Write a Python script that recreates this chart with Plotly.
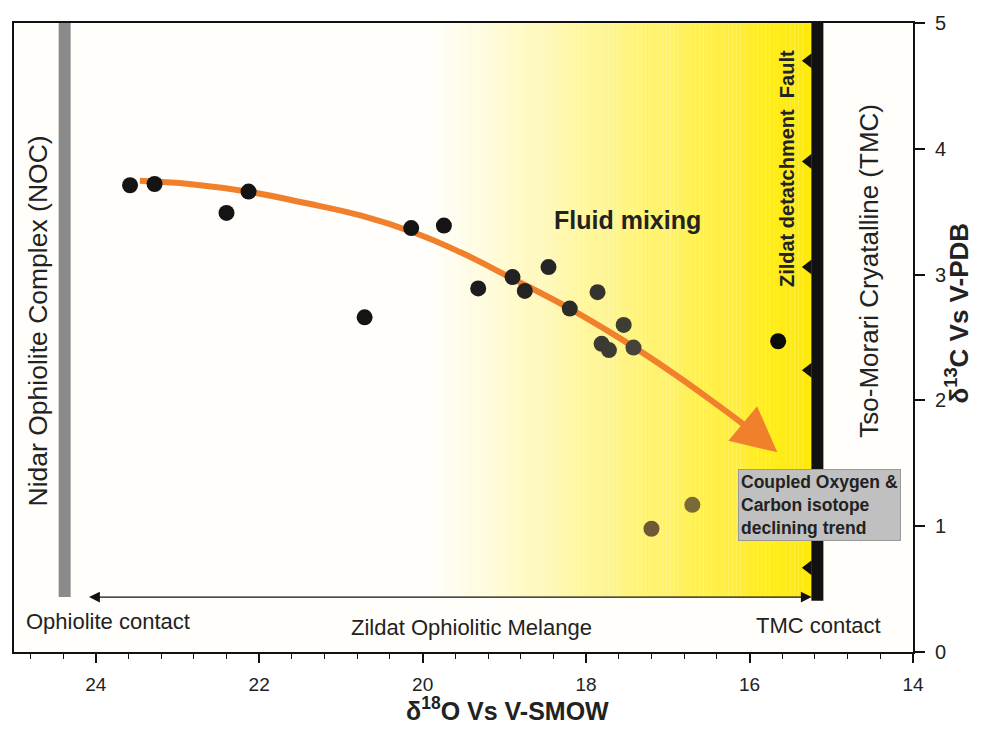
import plotly.graph_objects as go

# ---------------- data ----------------
d18O = [23.58, 23.28, 22.40, 22.13, 20.71, 20.14, 19.74, 19.32, 18.90, 18.75,
        18.46, 18.20, 17.86, 17.81, 17.72, 17.54, 17.42, 17.20, 16.70, 15.65]
d13C = [3.71, 3.72, 3.49, 3.66, 2.66, 3.37, 3.39, 2.89, 2.98, 2.87,
        3.06, 2.73, 2.86, 2.45, 2.40, 2.60, 2.42, 0.98, 1.17, 2.47]
point_colors = ["#141414"] * 7 + ["#1c1c1c", "#222222", "#232323", "#252525", "#2b2b28",
                                  "#333330", "#3a3a32", "#3c3b33", "#3e3d34", "#45433a",
                                  "#6b5a35", "#7a6a3a", "#0a0a0a"]

trend_x = [23.46, 22.83, 22.13, 21.48, 20.75, 20.10, 19.53, 18.90, 18.20, 17.53, 16.93, 16.36, 16.05]
trend_y = [3.746, 3.719, 3.659, 3.575, 3.468, 3.333, 3.175, 2.968, 2.730, 2.471, 2.214, 1.948, 1.798]
trend_tip = (15.66, 1.587)

x_ticks = [24, 22, 20, 18, 16, 14]
y_ticks = [0, 1, 2, 3, 4, 5]

noc_x = 24.38          # Nidar ophiolite contact
fault_x = 15.17        # Zildat detachment fault
fault_teeth_y = [4.70, 3.90, 3.06, 2.24, 0.67]
contact_y = 0.437

X_RANGE = [25, 14]
Y_RANGE = [0, 5]

ORANGE = "#F0802C"
TXT = "#222222"
FONT = "Liberation Sans, Arial, sans-serif"
NARROW = "Liberation Sans Narrow, Arial Narrow, Liberation Sans, Arial, sans-serif"

fig = go.Figure()

# ------------- background gradient (white -> yellow) -------------
shapes = []
g0, g1 = 19.9, 15.35
n = 90
for i in range(n):
    xa = g0 - (g0 - g1) * i / n
    xb = g0 - (g0 - g1) * (i + 1) / n
    t = ((i + 0.5) / n) ** 1.1
    g = round(254 - (254 - 234) * t)
    b = round(250 - (250 - 8) * t)
    shapes.append(dict(type="rect", xref="x", yref="y", x0=xa, x1=xb - 0.001,
                       y0=contact_y, y1=5, fillcolor=f"rgb(255,{g},{b})",
                       line=dict(width=0), layer="below"))
shapes.append(dict(type="rect", xref="x", yref="y", x0=g1, x1=fault_x,
                   y0=contact_y, y1=5, fillcolor="rgb(255,234,8)",
                   line=dict(width=0), layer="below"))
# NOC grey bar
shapes.append(dict(type="line", xref="x", yref="y", x0=noc_x, x1=noc_x,
                   y0=contact_y, y1=5, line=dict(color="#8a8a8a", width=12)))
# fault bar
shapes.append(dict(type="line", xref="x", yref="y", x0=fault_x, x1=fault_x,
                   y0=contact_y - 0.03, y1=5, line=dict(color="#111111", width=12)))

# fault teeth
fig.add_trace(go.Scatter(x=[fault_x + 0.11] * len(fault_teeth_y), y=fault_teeth_y,
                         mode="markers", hoverinfo="skip",
                         marker=dict(symbol="triangle-left", size=13, color="#111111",
                                     line=dict(width=0))))

# trend curve
fig.add_trace(go.Scatter(x=trend_x, y=trend_y, mode="lines", hoverinfo="skip",
                         line=dict(color=ORANGE, width=6, shape="spline", smoothing=1.3)))

# data points
fig.add_trace(go.Scatter(x=d18O, y=d13C, mode="markers",
                         marker=dict(size=16, color=point_colors, line=dict(width=0))))

annotations = []
# arrowhead on trend
annotations.append(dict(x=trend_tip[0], y=trend_tip[1], ax=trend_x[-1], ay=trend_y[-1],
                        xref="x", yref="y", axref="x", ayref="y", text="",
                        showarrow=True, arrowhead=2, arrowsize=1.5, arrowwidth=6,
                        arrowcolor=ORANGE))
# double-headed contact arrow
annotations.append(dict(x=15.24, y=contact_y, ax=24.1, ay=contact_y,
                        xref="x", yref="y", axref="x", ayref="y", text="",
                        showarrow=True, arrowhead=2, startarrowhead=2, arrowside="end+start",
                        arrowsize=1.8, startarrowsize=1.8, arrowwidth=1.2, arrowcolor="#111111"))

# page offset (browser body margin)
OFF = 8
W, H = 981 - 2 * OFF, 731 - 2 * OFF
L, R, T, B = 12, 913, 22, 652   # plot area in page pixels


def px(xp):
    return (xp - L) / (R - L)


def py(yp):
    return (B - yp) / (B - T)


def txt(text, x, y, size, bold=False, angle=0, xanchor="center", yanchor="middle", font=FONT, color=TXT):
    if bold:
        text = f"<b>{text}</b>"
    annotations.append(dict(text=text, x=px(x), y=py(y), xref="paper", yref="paper", showarrow=False,
                            textangle=angle, xanchor=xanchor, yanchor=yanchor,
                            font=dict(family=font, size=size, color=color)))


txt("Nidar Ophiolite Complex (NOC)", 36, 320, 26.5, angle=-90)
txt("Tso-Morari Cryatalline (TMC)", 869, 270, 26, angle=-90)
txt("Zildat detatchment  Fault", 786, 168, 20, bold=True, angle=-90)
txt("Fluid mixing", 627, 219, 25, bold=True)
txt("Ophiolite contact", 106, 621, 22)
txt("Zildat Ophiolitic Melange", 471, 627, 22)
txt("TMC contact", 818, 625, 22)

annotations.append(dict(text="<b>Coupled Oxygen &amp;<br>Carbon isotope<br>declining trend</b>",
                        x=px(738), y=py(505), xref="paper", yref="paper", showarrow=False,
                        xanchor="left", yanchor="middle", align="left",
                        bgcolor="#c0c0c0", bordercolor="#9a9a9a", borderwidth=1, borderpad=2,
                        font=dict(family=FONT, size=17.5, color=TXT)))

# axis titles
txt("δ<sup>18</sup>O Vs V-SMOW", 507, 709, 25, bold=True, font=NARROW)
txt("δ<sup>13</sup>C Vs V-PDB", 958, 312, 26, bold=True, angle=-90, font=NARROW)

fig.update_layout(
    width=W, height=H,
    margin=dict(l=L - OFF, r=W - (R - OFF), t=T - OFF, b=H - (B - OFF), pad=0),
    paper_bgcolor="white", plot_bgcolor="#fffefa",
    showlegend=False,
    shapes=shapes, annotations=annotations,
    xaxis=dict(range=X_RANGE, tickvals=x_ticks, ticks="outside", ticklen=9, tickwidth=1.5,
               tickcolor="#111", showline=True, mirror=True, linecolor="#111", linewidth=2,
               showgrid=False, zeroline=False, ticklabelstandoff=5,
               tickfont=dict(family=NARROW, size=19, color=TXT),
               minor=dict(dtick=0.4, tick0=24, ticks="outside", ticklen=5, tickwidth=1,
                          tickcolor="#111", showgrid=False)),
    yaxis=dict(range=Y_RANGE, tickvals=y_ticks, side="right", ticks="outside", ticklen=10,
               tickwidth=1.5, tickcolor="#111", showline=True, mirror=True, linecolor="#111",
               linewidth=2, showgrid=False, zeroline=False, ticklabelstandoff=6,
               tickfont=dict(family=FONT, size=20, color=TXT)),
)

fig.write_html("out.html")
